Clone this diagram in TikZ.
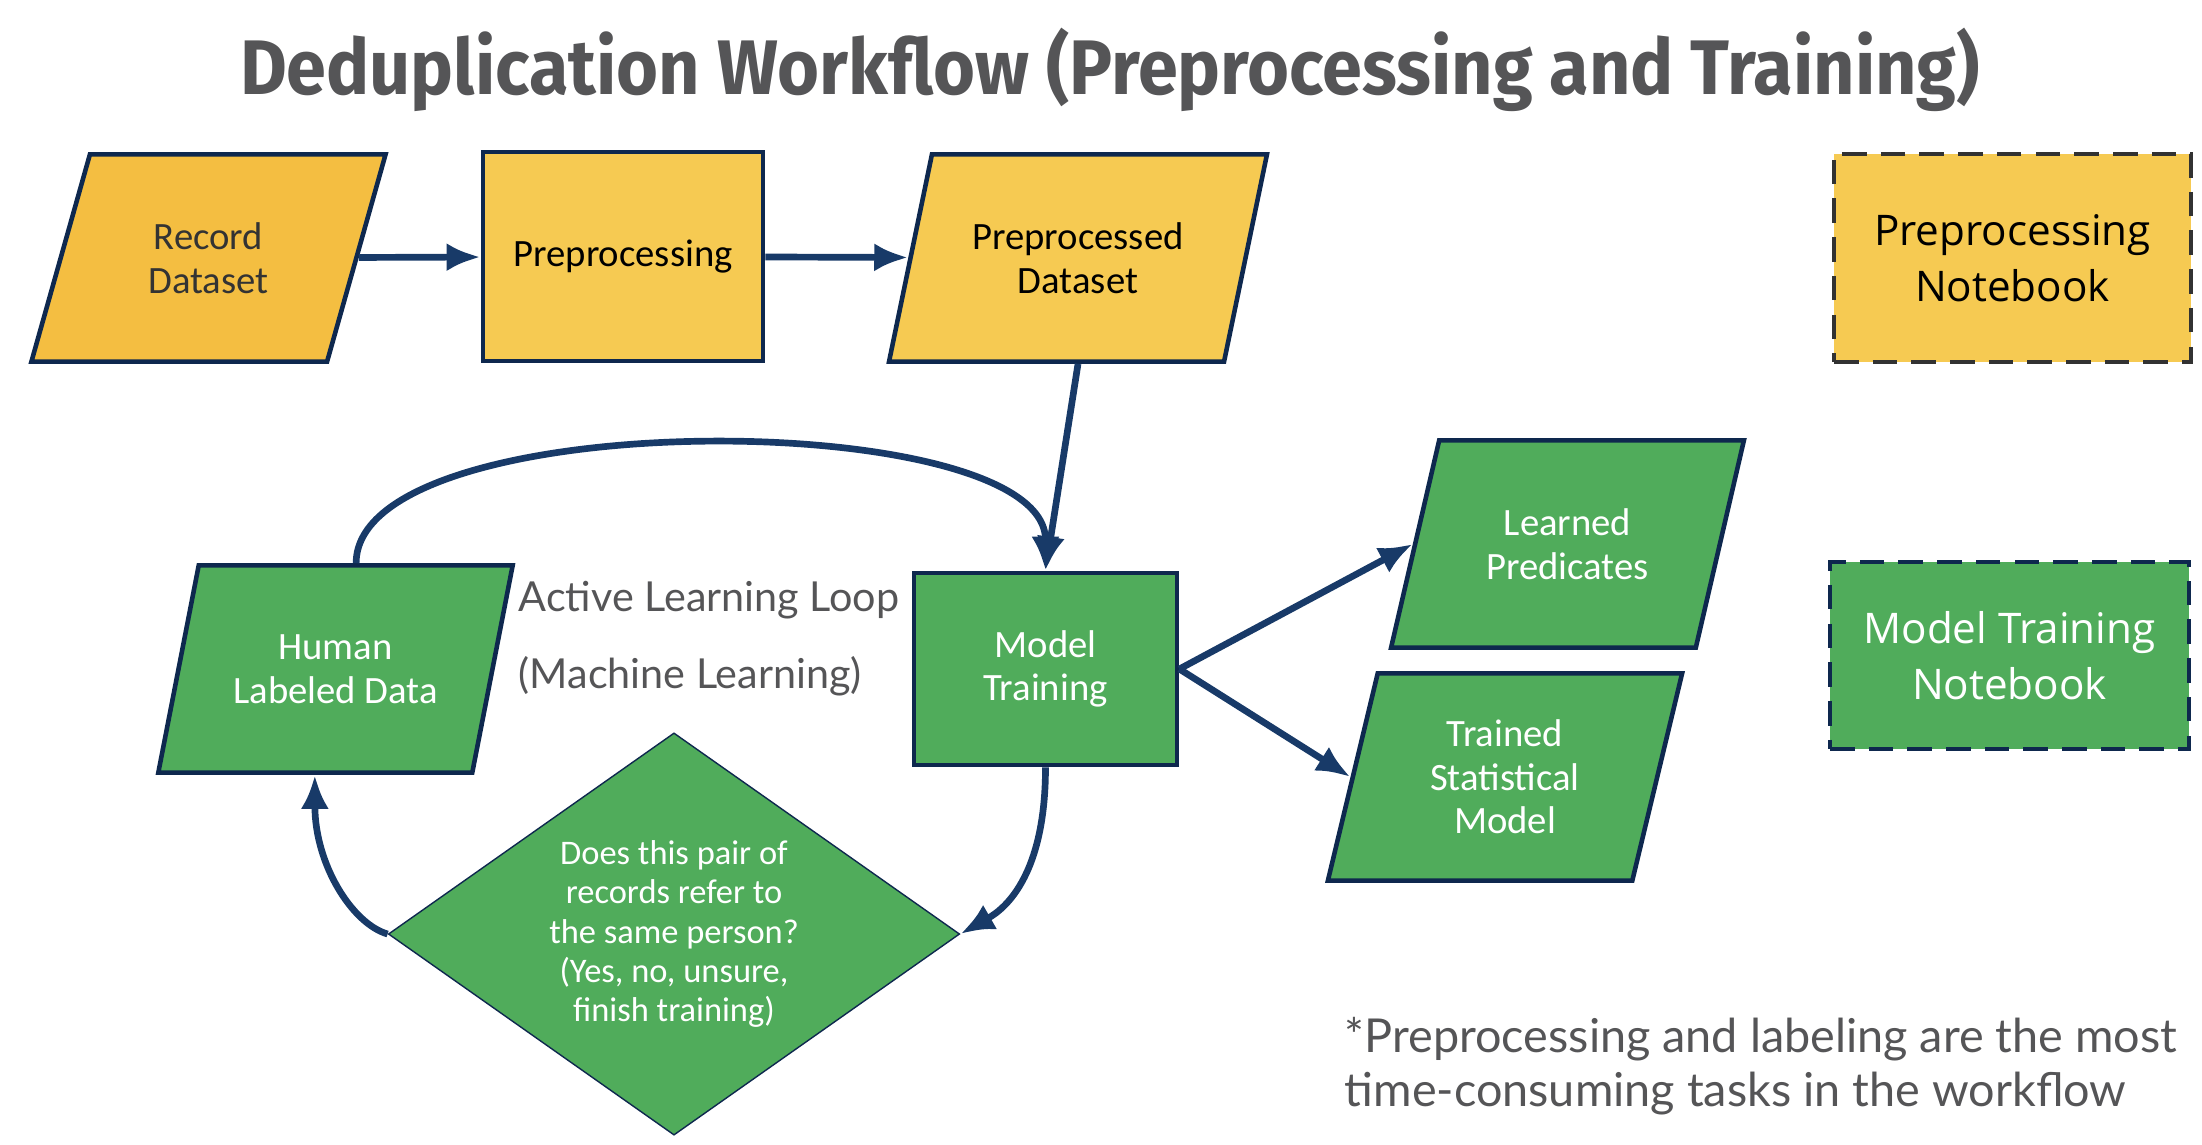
\documentclass[tikz,border=0pt]{standalone}
\usepackage{fontspec}
\setmainfont{Carlito}
\newfontfamily\ddtitlefont[FakeStretch=0.93]{Fira Sans}
\newfontfamily\ddnotefont{Open Sans}
\newfontfamily\ddlightfont{Lato}
\usetikzlibrary{arrows.meta,shapes.geometric}
\definecolor{DdNavy}{RGB}{14,40,78}
\definecolor{DdArrow}{RGB}{24,58,104}
\definecolor{DdYellow}{RGB}{246,202,82}
\definecolor{DdOrange}{RGB}{244,190,65}
\definecolor{DdGreen}{RGB}{80,172,91}
\definecolor{DdGray}{RGB}{85,85,87}
\definecolor{DdDash}{RGB}{50,50,50}
\tikzset{
  dd/io/.style={
    trapezium,
    trapezium left angle=68.7,
    trapezium right angle=111.3,
    trapezium stretches=true,
    draw=DdNavy,
    line width=1.3pt,
    align=center,
    font=\fontsize{11}{12.4}\selectfont,
    minimum width=3.55cm,
    minimum height=2.07cm,
    inner sep=2pt
  },
  dd/proc/.style={
    rectangle,
    draw=DdNavy,
    line width=1.3pt,
    align=center,
    font=\fontsize{11}{12.4}\selectfont
  },
  dd/decision/.style={
    diamond,
    draw=DdNavy,
    thin,
    fill=DdGreen,
    text=white,
    align=center,
    aspect=1.42,
    inner sep=0pt,
    minimum width=5.71cm,
    minimum height=4.02cm,
    font=\fontsize{9.8}{11.2}\selectfont
  },
  dd/note/.style={
    rectangle,
    dashed,
    dash pattern=on 7pt off 4pt,
    line width=1.2pt,
    align=center,
    font=\ddnotefont\fontsize{12}{16}\selectfont
  },
  dd/yellow/.style={fill=DdYellow, text=black},
  dd/green/.style={fill=DdGreen, text=white},
  dd/arrow/.style={-{Latex[length=3.4mm,width=2.8mm]}, line width=1.9pt, draw=DdArrow},
  dd/title/.style={font=\ddtitlefont\bfseries\fontsize{22}{26}\selectfont, text=DdGray},
  dd/light/.style={font=\ddlightfont\fontsize{11.75}{21.9}\selectfont, text=DdGray, align=left, inner sep=0pt}
}

\begin{document}
\begin{tikzpicture}[x=0.01cm,y=-0.01cm]
  \useasboundingbox (0,0) rectangle (2202,1144);

  \node[dd/title] (title) at (1110,70) {Deduplication Workflow (Preprocessing and Training)};

  % preprocessing row
  \node[dd/io,fill=DdOrange,text=black!80] (rec) at (208.5,258) {Record\\Dataset};
  \node[dd/proc,dd/yellow,minimum width=2.8cm,minimum height=2.09cm] (prep) at (623,256.5) {Preprocessing};
  \node[dd/io,dd/yellow,minimum width=3.8cm] (ppd) at (1078,258) {Preprocessed\\Dataset};

  % training loop
  \node[dd/io,dd/green] (hum) at (335.5,669) {Human\\Labeled Data};
  \node[dd/proc,dd/green,minimum width=2.63cm,minimum height=1.92cm] (mt) at (1045.5,669) {Model\\Training};
  \node[dd/decision] (dia) at (674,934) {Does this pair of\\records refer to\\the same person?\\(Yes, no, unsure,\\finish training)};
  \node[dd/light,anchor=west] (loop) at (518,638.5) {Active Learning Loop\\(Machine Learning)};

  % outputs
  \node[dd/io,dd/green] (lp) at (1567.5,544) {Learned\\Predicates};
  \node[dd/io,dd/green,trapezium left angle=76,trapezium right angle=104] (tsm) at (1505,777) {Trained\\Statistical\\Model};

  % legend
  \node[dd/note,dd/yellow,draw=DdDash,minimum width=3.57cm,minimum height=2.08cm] (nbprep) at (2012.5,258) {Preprocessing\\Notebook};
  \node[dd/note,dd/green,draw=DdNavy,minimum width=3.59cm,minimum height=1.87cm] (nbtrain) at (2009.5,655.5) {Model Training\\Notebook};

  \node[dd/light,font=\ddlightfont\fontsize{13.3}{15.4}\selectfont,anchor=west] (foot) at (1344,1066) {*Preprocessing and labeling are the most\\time-consuming tasks in the workflow};

  \draw[dd/arrow] (rec) -- (prep);
  \draw[dd/arrow] (prep) -- (ppd);
  \draw[dd/arrow] (ppd.south) -- (mt.north);
  \draw[dd/arrow] (hum.top side) .. controls +(0,-160) and +(0,-165) .. (mt.north);
  \draw[dd/arrow] (mt.south) .. controls +(0,120) and +(35,-20) .. (dia.east);
  \draw[dd/arrow] (dia.west) .. controls +(-35,-10) and +(0,90) .. (hum.bottom side);
  \draw[dd/arrow] (mt.east) -- (lp.left side);
  \draw[dd/arrow] (mt.east) -- (tsm.left side);
\end{tikzpicture}
\end{document}
